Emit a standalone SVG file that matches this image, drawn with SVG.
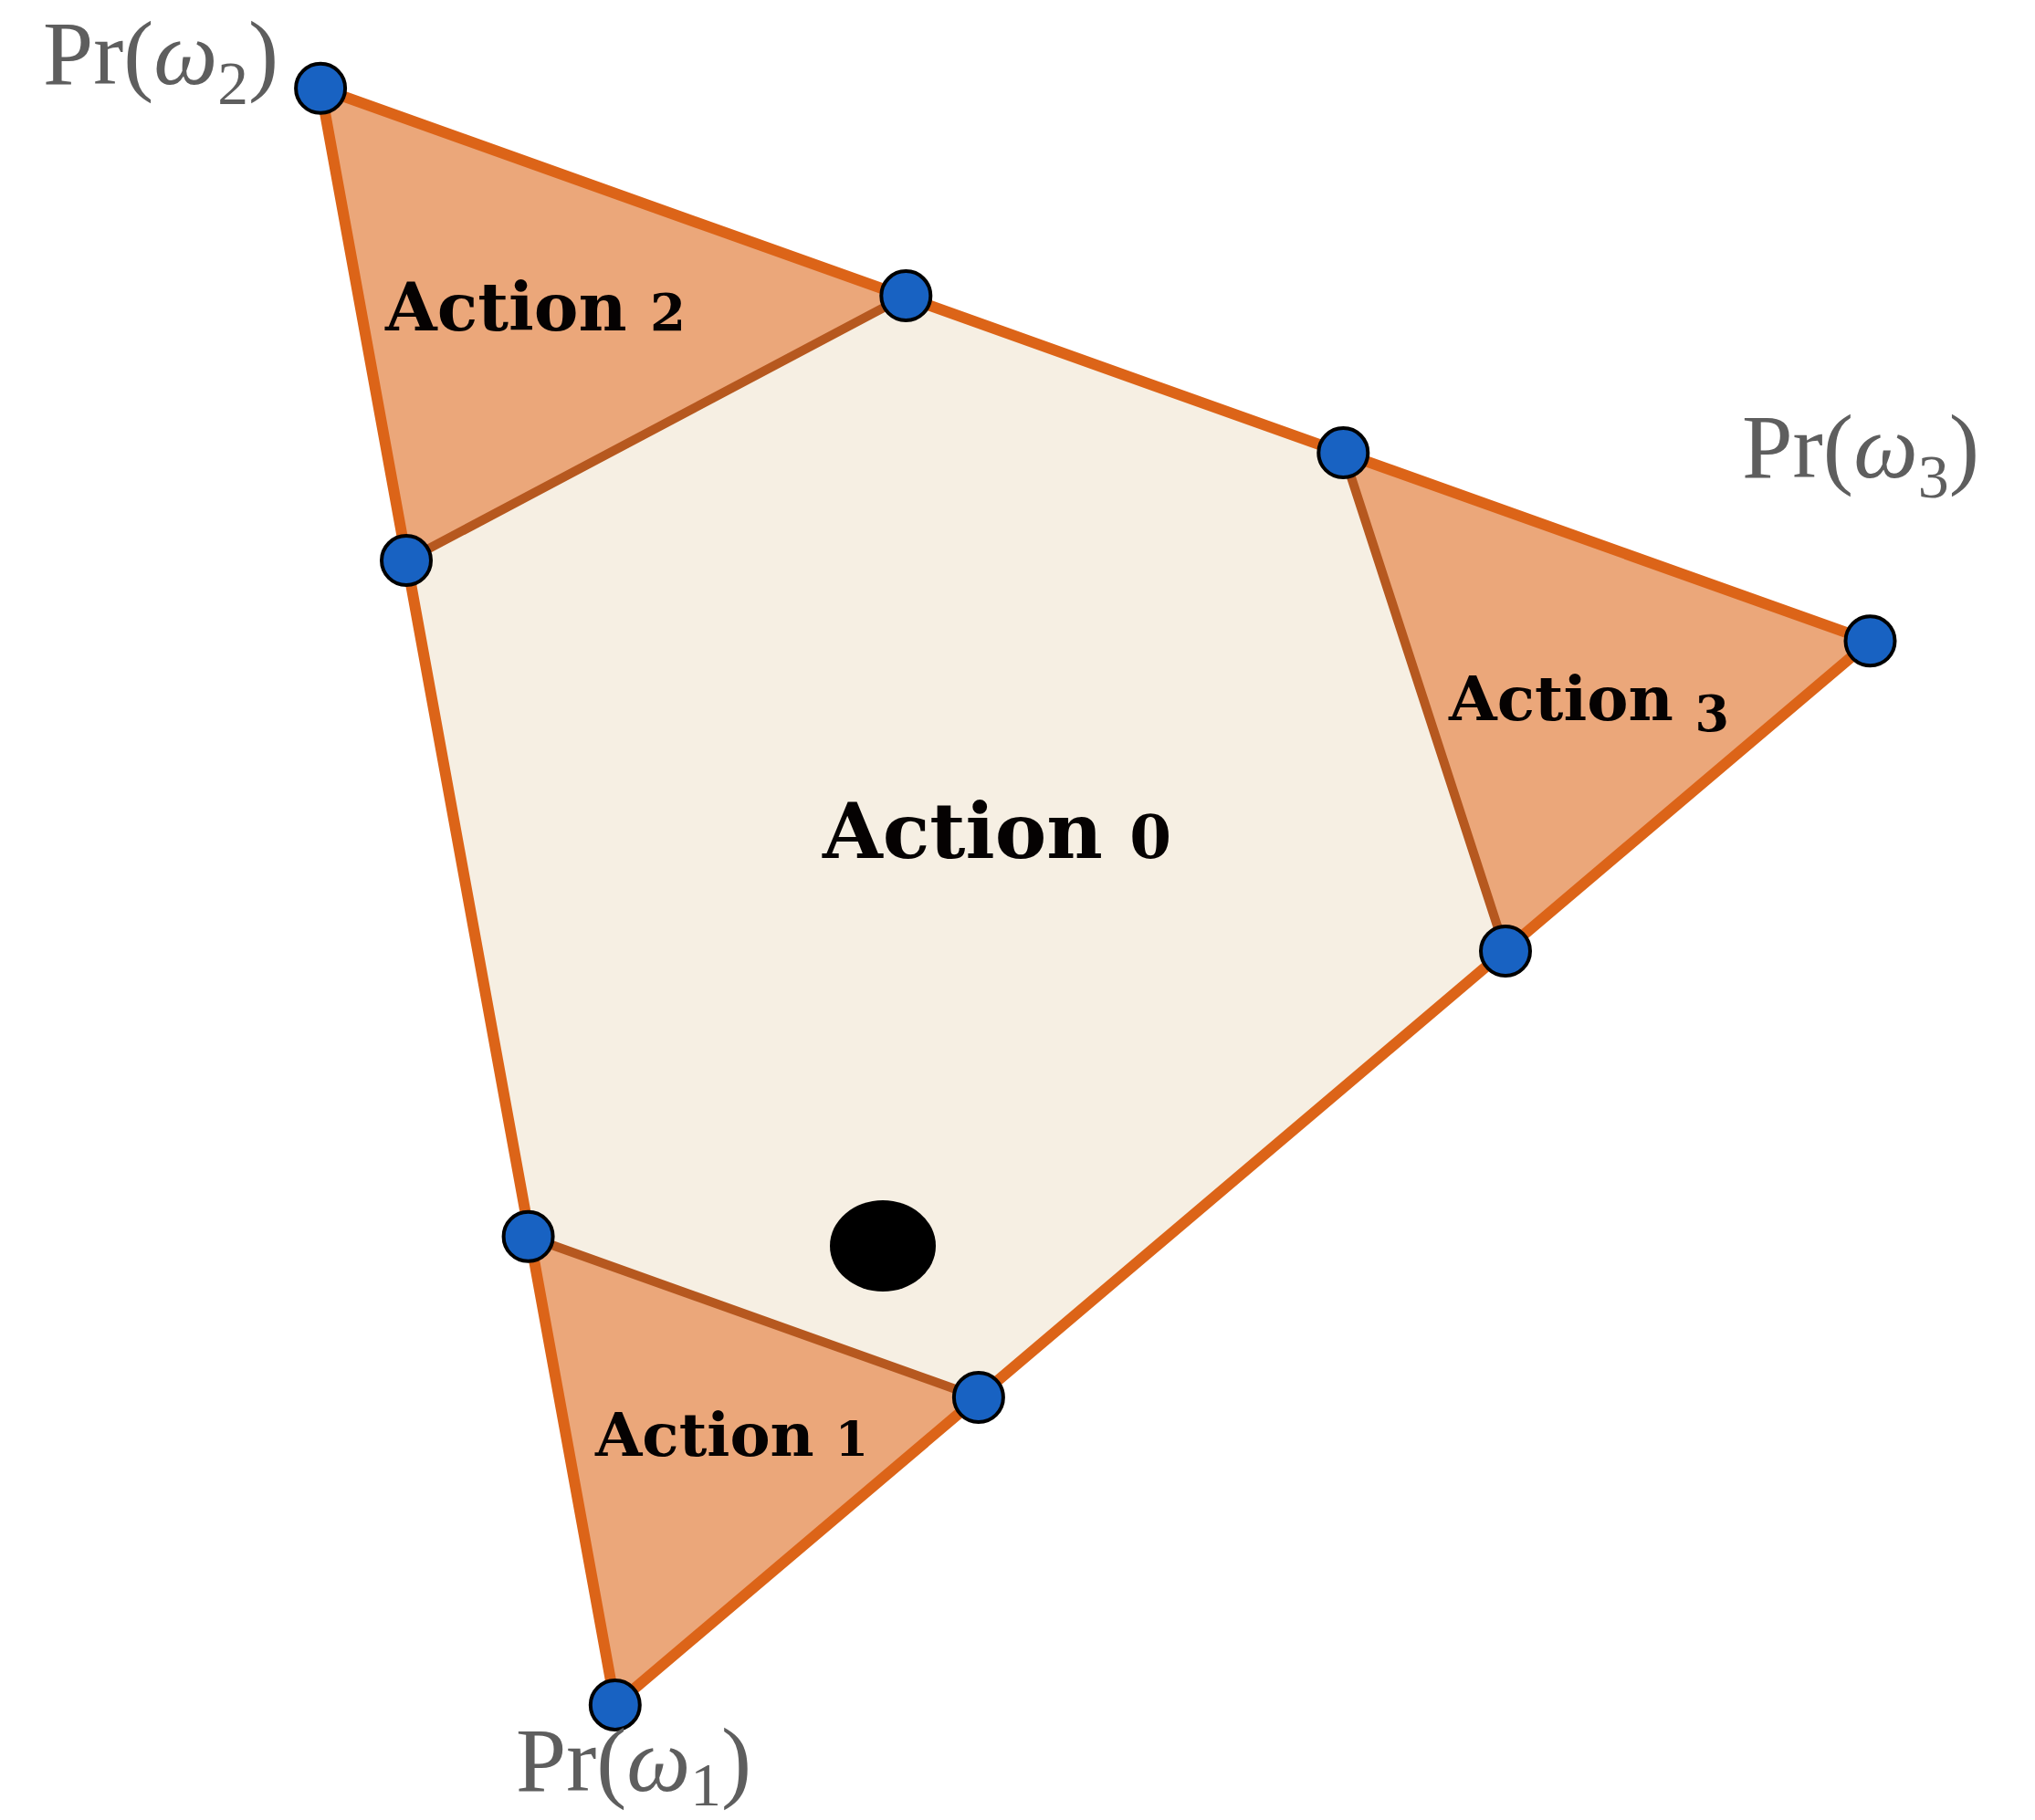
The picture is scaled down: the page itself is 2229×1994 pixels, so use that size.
<svg xmlns="http://www.w3.org/2000/svg" width="2229" height="1994" viewBox="0 0 2229 1994">
<style>
.region0{fill:#f6efe3;stroke:none}
.regionA{fill:#eba77a;stroke:none}
.outer{fill:none;stroke:#dc6418;stroke-width:12;stroke-linejoin:round}
.inner{fill:none;stroke:#b6581f;stroke-width:10;stroke-linecap:round}
.pt{fill:#1862c2;stroke:#000;stroke-width:4}
.act{font-family:"DejaVu Serif","Liberation Serif",serif;font-weight:bold;fill:#050202}
.pr{font-family:"Liberation Serif","Times New Roman",serif;font-size:100px;fill:#5e5e5e}
.w{font-style:italic}
.sub{font-size:68px}
</style>
<rect width="2229" height="1994" fill="#ffffff"/>
<g id="region-action0">
<polygon class="region0" points="992.3,324.1 1471.3,496.1 1649,1042 1071.9,1531 578.6,1354.7 445,614.1"/>
<text class="act" x="901" y="940" font-size="85" textLength="382" lengthAdjust="spacingAndGlyphs">Action <tspan font-size="66">0</tspan></text>
</g>
<g id="region-action2">
<polygon class="regionA" points="351.1,96.7 992.3,324.1 445,614.1"/>
<text class="act" x="422" y="362" font-size="73" textLength="329" lengthAdjust="spacingAndGlyphs">Action <tspan font-size="56">2</tspan></text>
</g>
<g id="region-action3">
<polygon class="regionA" points="1471.3,496.1 2048.5,702.3 1649,1042"/>
<text class="act" x="1587" y="789" font-size="68" textLength="307" lengthAdjust="spacingAndGlyphs">Action <tspan font-size="54" dy="12">3</tspan></text>
</g>
<g id="region-action1">
<polygon class="regionA" points="578.6,1354.7 1071.9,1531 673.8,1867.9"/>
<text class="act" x="652" y="1595" font-size="66" textLength="299" lengthAdjust="spacingAndGlyphs">Action <tspan font-size="52">1</tspan></text>
</g>
<g id="connectors">
<line class="inner" x1="992.3" y1="324.1" x2="445" y2="614.1"/>
<line class="inner" x1="1471.3" y1="496.1" x2="1649" y2="1042"/>
<line class="inner" x1="578.6" y1="1354.7" x2="1071.9" y2="1531"/>
<polygon class="outer" points="351.1,96.7 2048.5,702.3 673.8,1867.9"/>
</g>
<g id="belief-point">
<ellipse cx="967" cy="1365" rx="58" ry="50" fill="#000"/>
</g>
<g id="vertex-w2">
<circle class="pt" cx="351.1" cy="96.7" r="27"/>
<text class="pr" x="47" y="92" textLength="258" lengthAdjust="spacingAndGlyphs">Pr(<tspan class="w">ω</tspan><tspan class="sub" dy="22">2</tspan><tspan dy="-22">)</tspan></text>
</g>
<g id="vertex-w3">
<circle class="pt" cx="2048.5" cy="702.3" r="27"/>
<text class="pr" x="1908" y="523" textLength="260" lengthAdjust="spacingAndGlyphs">Pr(<tspan class="w">ω</tspan><tspan class="sub" dy="22">3</tspan><tspan dy="-22">)</tspan></text>
</g>
<g id="vertex-w1">
<circle class="pt" cx="673.8" cy="1867.9" r="27"/>
<text class="pr" x="565" y="1962" textLength="258" lengthAdjust="spacingAndGlyphs">Pr(<tspan class="w">ω</tspan><tspan class="sub" dy="16">1</tspan><tspan dy="-16">)</tspan></text>
</g>
<g id="point-top1"><circle class="pt" cx="992.3" cy="324.1" r="27"/></g>
<g id="point-top2"><circle class="pt" cx="1471.3" cy="496.1" r="27"/></g>
<g id="point-right"><circle class="pt" cx="1649" cy="1042" r="27"/></g>
<g id="point-bottom"><circle class="pt" cx="1071.9" cy="1531" r="27"/></g>
<g id="point-left-low"><circle class="pt" cx="578.6" cy="1354.7" r="27"/></g>
<g id="point-left-high"><circle class="pt" cx="445" cy="614.1" r="27"/></g>
</svg>
